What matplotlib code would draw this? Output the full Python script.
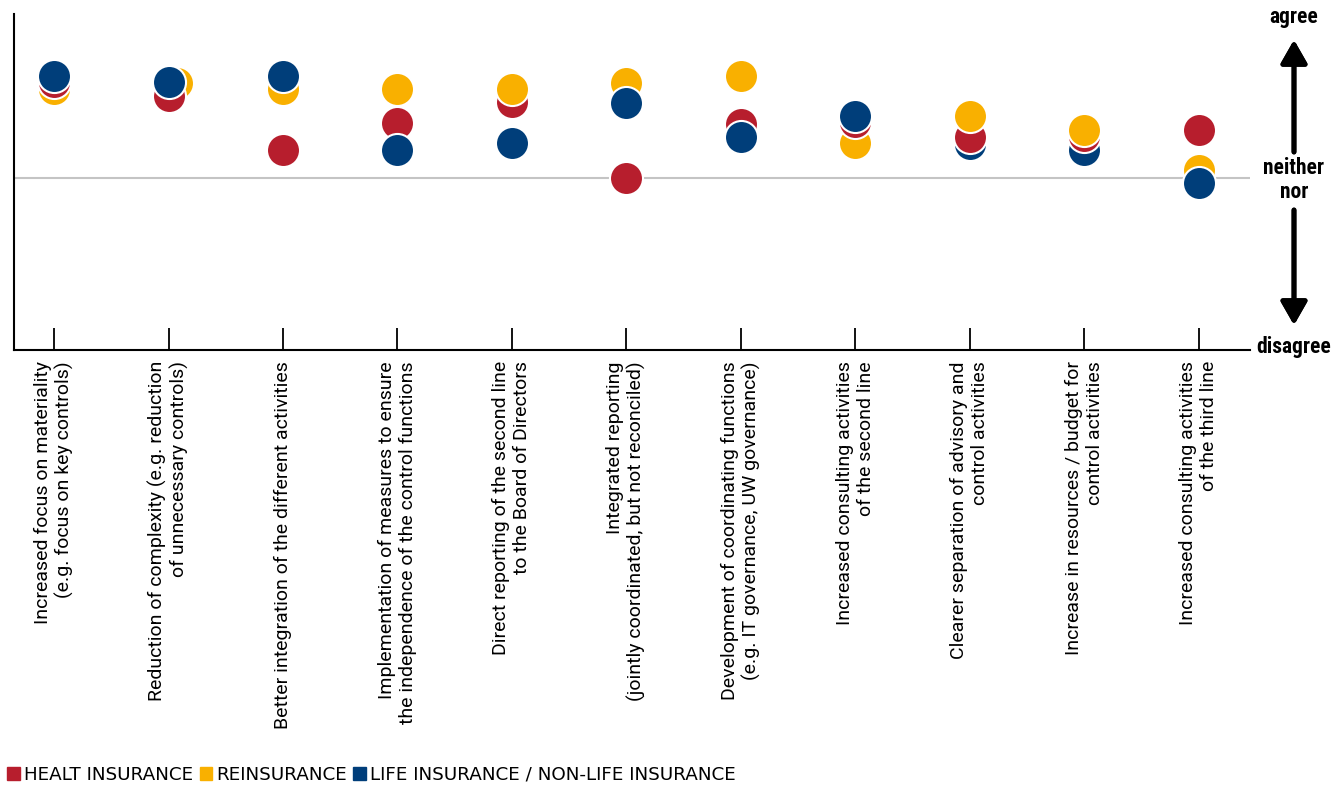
import matplotlib
matplotlib.use("Agg")
import matplotlib.pyplot as plt
from matplotlib.patches import Patch

# survey results, scale: -2 = disagree, 0 = neither nor, +2 = agree
categories = [
    "Increased focus on materiality\n(e.g. focus on key controls)",
    "Reduction of complexity (e.g. reduction\nof unnecessary controls)",
    "Better integration of the different activities",
    "Implementation of measures to ensure\nthe independence of the control functions",
    "Direct reporting of the second line\nto the Board of Directors",
    "Integrated reporting\n(jointly coordinated, but not reconciled)",
    "Development of coordinating functions\n(e.g. IT governance, UW governance)",
    "Increased consulting activities\nof the second line",
    "Clearer separation of advisory and\ncontrol activities",
    "Increase in resources / budget for\ncontrol activities",
    "Increased consulting activities\nof the third line",
]
health = [1.12, 0.95, 0.33, 0.64, 0.88, 0.00, 0.63, 0.65, 0.48, 0.49, 0.56]
reins = [1.03, 1.11, 1.03, 1.04, 1.04, 1.11, 1.19, 0.41, 0.72, 0.56, 0.09]
life = [1.19, 1.12, 1.19, 0.33, 0.41, 0.87, 0.48, 0.72, 0.40, 0.32, -0.06]

series_names = ["HEALT INSURANCE", "REINSURANCE", "LIFE INSURANCE / NON-LIFE INSURANCE"]
colors = ["#B71E2D", "#F9B000", "#003E7A"]

# categories where the stacking order of the dots is reversed
reversed_stack = [4, 8, 9]
reins_shift = {1: 0.07}

narrow = ["Roboto Condensed", "Roboto", "DejaVu Sans"]

W, H = 1343, 787
fig = plt.figure(figsize=(W / 100, H / 100), dpi=100)
ax = fig.add_axes([14 / W, 1 - 350 / H, (1250 - 14) / W, (350 - 14) / H])

x = list(range(len(categories)))
ax.axhline(0, color="#c4c4c4", lw=1.5, zorder=1)

for i in x:
    pts = [(health[i], colors[0], 3), (reins[i], colors[1], 2), (life[i], colors[2], 4)]
    if i in reversed_stack:
        pts = [(health[i], colors[0], 3), (reins[i], colors[1], 4), (life[i], colors[2], 2)]
    for k, (v, c, z) in enumerate(pts):
        xi = i + (reins_shift.get(i, 0) if k == 1 else 0)
        ax.plot(xi, v, "o", ms=23.8, color=c, mec="white", mew=1.5, zorder=z)

ax.set_xlim(-0.35, 10.45)
ax.set_ylim(-2, 1.907)
ax.set_yticks([])
ax.set_xticks(x)
ax.set_xticklabels(categories, rotation=90, va="top", ha="center",
                   multialignment="right", fontsize=14, family="Roboto")
ax.tick_params(axis="x", direction="in", length=16, width=1.3, pad=8)
for s in ["top", "right"]:
    ax.spines[s].set_visible(False)
for s in ["left", "bottom"]:
    ax.spines[s].set_linewidth(1.5)

bold = dict(family=narrow, weight="bold", fontsize=15.5,
            ha="center", va="center")
fig.text(1294 / W, 1 - 17 / H, "agree", **bold)
fig.text(1294 / W, 1 - 180 / H, "neither\nnor", linespacing=1.1, **bold)
fig.text(1294 / W, 1 - 347 / H, "disagree", **bold)

arrow = dict(arrowstyle="-|>,head_width=0.4,head_length=0.7", lw=3.5,
             color="black", mutation_scale=20, shrinkA=0, shrinkB=0)
fig.add_artist(plt.annotate("", xy=(1294 / W, 1 - 40 / H), xytext=(1294 / W, 1 - 152 / H),
                            xycoords="figure fraction", arrowprops=arrow))
fig.add_artist(plt.annotate("", xy=(1294 / W, 1 - 325 / H), xytext=(1294 / W, 1 - 210 / H),
                            xycoords="figure fraction", arrowprops=arrow))

handles = [Patch(color=c) for c in colors]
fig.legend(handles, series_names, loc="lower left", bbox_to_anchor=(-0.004, -0.012),
           ncol=3, frameon=False, handlelength=0.7, handleheight=0.7,
           handletextpad=0.2, columnspacing=0.35, borderaxespad=0.3,
           prop=dict(family="DejaVu Sans", size=13.2))

fig.savefig("out.png", dpi=100)
